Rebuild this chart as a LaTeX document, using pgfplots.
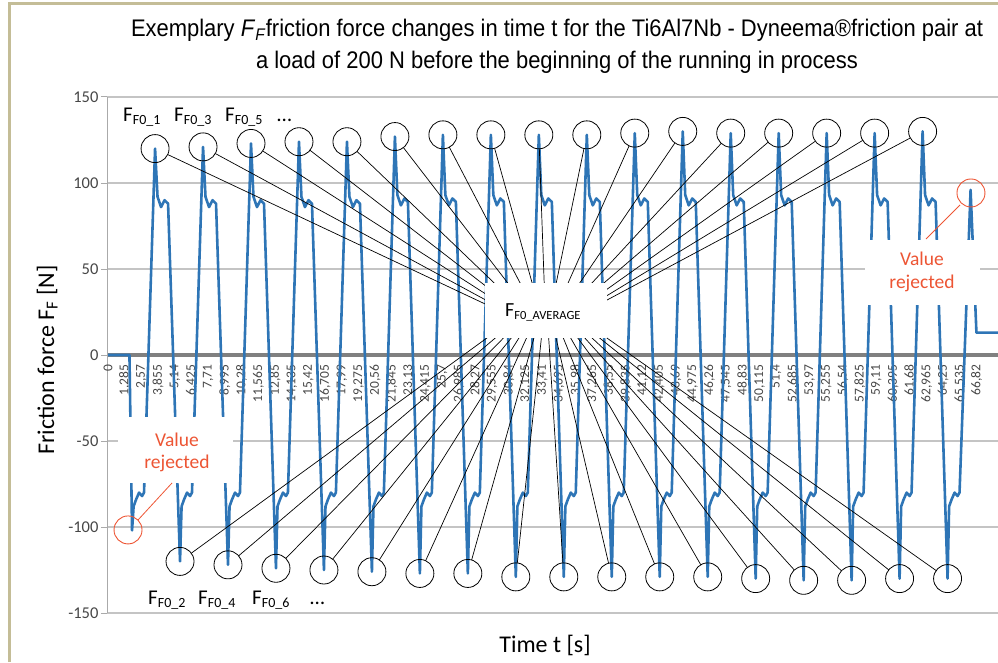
\documentclass[border=0pt]{standalone}
\usepackage{pgfplots}
\pgfplotsset{compat=1.18}
\usepackage{fontspec}
\usepackage{graphicx}
\setmainfont{Carlito}
\newfontfamily\titlefont{Liberation Sans}
\definecolor{exblue}{RGB}{46,117,182}
\definecolor{gridgray}{RGB}{196,196,196}
\definecolor{axisgray}{RGB}{128,128,128}
\definecolor{ygray}{RGB}{170,170,170}
\definecolor{labgray}{RGB}{70,70,70}
\definecolor{rejred}{RGB}{237,85,52}
\definecolor{frametan}{RGB}{196,189,151}
\newcommand{\Flab}[1]{{\fontsize{21}{21}\selectfont F}\raisebox{-3pt}{\fontsize{14}{14}\selectfont F0\_#1}}
\begin{document}
\begin{tikzpicture}[x=1pt,y=1pt, conn/.style={black, line width=0.7pt, shorten <=14pt}]
\useasboundingbox (0,0) rectangle (998,662);
\begin{axis}[
  at={(107pt,49pt)}, anchor=south west, scale only axis,
  width=891pt, height=516pt,
  xmin=-0.077, xmax=68.46, ymin=-150, ymax=150,
  axis x line*=middle, axis y line*=left,
  hide obscured x ticks=false, hide obscured y ticks=false,
  x axis line style={draw=axisgray, line width=4pt},
  y axis line style={draw=ygray, line width=1pt},
  ymajorgrids, major grid style={draw=gridgray, line width=1.4pt},
  ytick={-150,-100,-50,0,50,100,150},
  yticklabels={-150,-100,-50,0,50,100,150},
  tick align=outside, major tick length=6pt,
  ytick style={draw=ygray, line width=1pt},
  xtick style={draw=none},
  yticklabel style={font=\fontsize{16.5}{16.5}\selectfont, text=labgray, anchor=east, xshift=1pt},
  xtick={0,1.285,2.57,3.855,5.14,6.425,7.71,8.995,10.28,11.565,12.85,14.135,15.42,16.705,17.99,19.275,20.56,21.845,23.13,24.415,25.7,26.985,28.27,29.555,30.84,32.125,33.41,34.695,35.98,37.265,38.55,39.835,41.12,42.405,43.69,44.975,46.26,47.545,48.83,50.115,51.4,52.685,53.97,55.255,56.54,57.825,59.11,60.395,61.68,62.965,64.25,65.535,66.82},
  xticklabels={0,{1,285},{2,57},{3,855},{5,14},{6,425},{7,71},{8,995},{10,28},{11,565},{12,85},{14,135},{15,42},{16,705},{17,99},{19,275},{20,56},{21,845},{23,13},{24,415},{25,7},{26,985},{28,27},{29,555},{30,84},{32,125},{33,41},{34,695},{35,98},{37,265},{38,55},{39,835},{41,12},{42,405},{43,69},{44,975},{46,26},{47,545},{48,83},{50,115},{51,4},{52,685},{53,97},{55,255},{56,54},{57,825},{59,11},{60,395},{61,68},{62,965},{64,25},{65,535},{66,82}},
  xticklabel style={rotate=90, anchor=east, font=\fontsize{13.5}{13.5}\selectfont, text=labgray},
]
\addplot[exblue, line width=2.6pt, line join=round] coordinates {
(0,0) (1.65,0)
(1.85,-102) (1.97,-88) (2.16,-84) (2.39,-80) (2.62,-82) (2.77,-80) (3.62,120) (3.81,92) (4.08,86) (4.35,90) (4.62,88)
(5.54,-120) (5.66,-88) (5.85,-84) (6.08,-80) (6.31,-82) (6.46,-80) (7.31,121) (7.50,92) (7.77,86) (8.04,90) (8.31,88)
(9.23,-122) (9.35,-88) (9.54,-84) (9.77,-80) (10.00,-82) (10.15,-80) (11.00,123) (11.19,92) (11.46,86) (11.73,90) (12.00,88)
(12.92,-124) (13.04,-88) (13.23,-84) (13.46,-80) (13.69,-82) (13.84,-80) (14.69,124) (14.88,92) (15.15,86) (15.42,90) (15.69,88)
(16.61,-125) (16.73,-88) (16.92,-84) (17.15,-80) (17.38,-82) (17.53,-80) (18.38,124) (18.57,92) (18.84,86) (19.11,90) (19.38,88)
(20.30,-126) (20.42,-88) (20.61,-84) (20.84,-80) (21.07,-82) (21.22,-80) (22.07,127) (22.26,93) (22.53,87) (22.80,91) (23.07,89)
(23.99,-127) (24.11,-88) (24.30,-84) (24.53,-80) (24.76,-82) (24.91,-80) (25.76,128) (25.95,93) (26.22,87) (26.49,91) (26.76,89)
(27.68,-127) (27.80,-88) (27.99,-84) (28.22,-80) (28.45,-82) (28.60,-80) (29.45,128) (29.64,93) (29.91,87) (30.18,91) (30.45,89)
(31.37,-129) (31.49,-88) (31.68,-84) (31.91,-80) (32.14,-82) (32.29,-80) (33.14,128) (33.33,93) (33.60,87) (33.87,91) (34.14,89)
(35.06,-129) (35.18,-88) (35.37,-84) (35.60,-80) (35.83,-82) (35.98,-80) (36.83,128) (37.02,93) (37.29,87) (37.56,91) (37.83,89)
(38.75,-129) (38.87,-88) (39.06,-84) (39.29,-80) (39.52,-82) (39.67,-80) (40.52,129) (40.71,93) (40.98,87) (41.25,91) (41.52,89)
(42.44,-129) (42.56,-88) (42.75,-84) (42.98,-80) (43.21,-82) (43.36,-80) (44.21,130) (44.40,93) (44.67,87) (44.94,91) (45.21,89)
(46.13,-129) (46.25,-88) (46.44,-84) (46.67,-80) (46.90,-82) (47.05,-80) (47.90,129) (48.09,93) (48.36,87) (48.63,91) (48.90,89)
(49.82,-130) (49.94,-88) (50.13,-84) (50.36,-80) (50.59,-82) (50.74,-80) (51.59,129) (51.78,93) (52.05,87) (52.32,91) (52.59,89)
(53.51,-131) (53.63,-88) (53.82,-84) (54.05,-80) (54.28,-82) (54.43,-80) (55.28,129) (55.47,93) (55.74,87) (56.01,91) (56.28,89)
(57.20,-131) (57.32,-88) (57.51,-84) (57.74,-80) (57.97,-82) (58.12,-80) (58.97,129) (59.16,93) (59.43,87) (59.70,91) (59.97,89)
(60.89,-130) (61.01,-88) (61.20,-84) (61.43,-80) (61.66,-82) (61.81,-80) (62.66,130) (62.85,93) (63.12,87) (63.39,91) (63.66,89)
(64.58,-130) (64.70,-88) (64.89,-84) (65.12,-80) (65.35,-82) (65.50,-80) (66.35,96) (66.80,13) (68.46,13)
};
\addplot[only marks, mark=o, mark size=14pt, mark options={draw=black, line width=0.8pt}] coordinates {
(3.62,120) (7.31,121) (11.00,123) (14.69,124) (18.38,124) (22.07,127) (25.76,128) (29.45,128) (33.14,128) (36.83,128) (40.52,129) (44.21,130) (47.90,129) (51.59,129) (55.28,129) (58.97,129) (62.66,130)
(5.54,-120) (9.23,-122) (12.92,-124) (16.61,-125) (20.30,-126) (23.99,-127) (27.68,-127) (31.37,-129) (35.06,-129) (38.75,-129) (42.44,-129) (46.13,-129) (49.82,-130) (53.51,-131) (57.20,-131) (60.89,-130) (64.58,-130)
};
\addplot[only marks, mark=o, mark size=14pt, mark options={draw=rejred, line width=0.9pt}] coordinates {(1.54,-101.7) (66.38,94.2)};
\draw[conn] (axis cs:3.62,120) -- (axis cs:33.69,13);
\draw[conn] (axis cs:7.31,121) -- (axis cs:33.69,13);
\draw[conn] (axis cs:11.00,123) -- (axis cs:33.69,13);
\draw[conn] (axis cs:14.69,124) -- (axis cs:33.69,13);
\draw[conn] (axis cs:18.38,124) -- (axis cs:33.69,13);
\draw[conn] (axis cs:22.07,127) -- (axis cs:33.69,13);
\draw[conn] (axis cs:25.76,128) -- (axis cs:33.69,13);
\draw[conn] (axis cs:29.45,128) -- (axis cs:33.69,13);
\draw[conn] (axis cs:33.14,128) -- (axis cs:33.69,13);
\draw[conn] (axis cs:36.83,128) -- (axis cs:33.69,13);
\draw[conn] (axis cs:40.52,129) -- (axis cs:33.69,13);
\draw[conn] (axis cs:44.21,130) -- (axis cs:33.69,13);
\draw[conn] (axis cs:47.90,129) -- (axis cs:33.69,13);
\draw[conn] (axis cs:51.59,129) -- (axis cs:33.69,13);
\draw[conn] (axis cs:55.28,129) -- (axis cs:33.69,13);
\draw[conn] (axis cs:58.97,129) -- (axis cs:33.69,13);
\draw[conn] (axis cs:62.66,130) -- (axis cs:33.69,13);
\draw[conn] (axis cs:5.54,-120) -- (axis cs:33.69,34.9);
\draw[conn] (axis cs:9.23,-122) -- (axis cs:33.69,34.9);
\draw[conn] (axis cs:12.92,-124) -- (axis cs:33.69,34.9);
\draw[conn] (axis cs:16.61,-125) -- (axis cs:33.69,34.9);
\draw[conn] (axis cs:20.30,-126) -- (axis cs:33.69,34.9);
\draw[conn] (axis cs:23.99,-127) -- (axis cs:33.69,34.9);
\draw[conn] (axis cs:27.68,-127) -- (axis cs:33.69,34.9);
\draw[conn] (axis cs:31.37,-129) -- (axis cs:33.69,34.9);
\draw[conn] (axis cs:35.06,-129) -- (axis cs:33.69,34.9);
\draw[conn] (axis cs:38.75,-129) -- (axis cs:33.69,34.9);
\draw[conn] (axis cs:42.44,-129) -- (axis cs:33.69,34.9);
\draw[conn] (axis cs:46.13,-129) -- (axis cs:33.69,34.9);
\draw[conn] (axis cs:49.82,-130) -- (axis cs:33.69,34.9);
\draw[conn] (axis cs:53.51,-131) -- (axis cs:33.69,34.9);
\draw[conn] (axis cs:57.20,-131) -- (axis cs:33.69,34.9);
\draw[conn] (axis cs:60.89,-130) -- (axis cs:33.69,34.9);
\draw[conn] (axis cs:64.58,-130) -- (axis cs:33.69,34.9);
\end{axis}
% frame
\draw[frametan, line width=3pt] (9,0) -- (9,658) -- (998,658);
% white boxes
\fill[white] (485,324) rectangle (607,379);
\fill[white] (118,179) rectangle (233,245);
\fill[white] (865,357) rectangle (980,422);
\node[anchor=base west, inner sep=0] at (505,345) {{\fontsize{20}{20}\selectfont F}\raisebox{-3pt}{\fontsize{12.5}{12.5}\selectfont F0\_AVERAGE}};
\node[anchor=base, inner sep=0, text=rejred, font=\fontsize{19.5}{19.5}\selectfont] at (177,216) {Value};
\node[anchor=base, inner sep=0, text=rejred, font=\fontsize{19.5}{19.5}\selectfont] at (177,194) {rejected};
\node[anchor=base, inner sep=0, text=rejred, font=\fontsize{19.5}{19.5}\selectfont] at (922,396) {Value};
\node[anchor=base, inner sep=0, text=rejred, font=\fontsize{19.5}{19.5}\selectfont] at (922,373) {rejected};
\draw[rejred, line width=0.8pt] (172,179) -- (138,142);
\draw[rejred, line width=0.8pt] (926,423) -- (960,457);
% F labels
\node[anchor=base west, inner sep=0] at (123,540) {\Flab{1}};
\node[anchor=base west, inner sep=0] at (174,540) {\Flab{3}};
\node[anchor=base west, inner sep=0] at (225,540) {\Flab{5}};
\node[anchor=base west, inner sep=0, font=\fontsize{21}{21}\selectfont] at (277,540) {\ldots};
\node[anchor=base west, inner sep=0] at (148,58) {\Flab{2}};
\node[anchor=base west, inner sep=0] at (198,58) {\Flab{4}};
\node[anchor=base west, inner sep=0] at (252,58) {\Flab{6}};
\node[anchor=base west, inner sep=0, font=\fontsize{21}{21}\selectfont] at (310,58) {\ldots};
% axis titles
\node[rotate=90, anchor=base, inner sep=0, font=\fontsize{24}{24}\selectfont] at (54,302) {Friction force F\textsubscript{F} [N]};
\node[anchor=base, inner sep=0, font=\fontsize{24}{24}\selectfont] at (545,10) {Time t [s]};
% title
\node[anchor=base, inner sep=0] at (557,625) {\scalebox{0.915}[1]{\titlefont\fontsize{24}{24}\selectfont Exemplary \textit{F}\textsubscript{\textit{F}}friction force changes in time t for the Ti6Al7Nb - Dyneema®friction pair at}};
\node[anchor=base, inner sep=0] at (557,593) {\scalebox{0.915}[1]{\titlefont\fontsize{24}{24}\selectfont a load of 200 N before the beginning of the running in process}};
\end{tikzpicture}
\end{document}
